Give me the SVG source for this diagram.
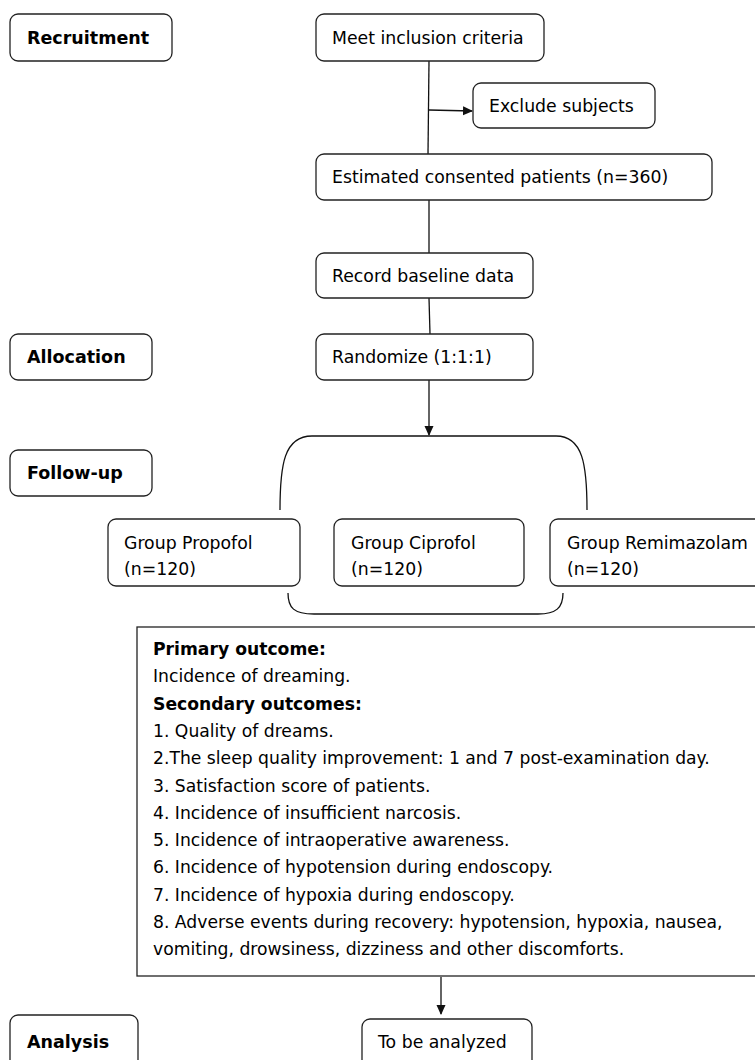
<svg xmlns="http://www.w3.org/2000/svg" width="755" height="1060" viewBox="0 0 755 1060">
<style>
.box{fill:#fff;stroke:#222;stroke-width:1.3}
.t{font-family:"DejaVu Sans",Verdana,sans-serif;font-size:17.3px;fill:#000}
.b{font-family:"DejaVu Sans",Verdana,sans-serif;font-size:17.5px;font-weight:bold;fill:#000}
.o{font-family:"DejaVu Sans",Verdana,sans-serif;font-size:17.2px;fill:#000}
.ob{font-family:"DejaVu Sans",Verdana,sans-serif;font-size:17.2px;font-weight:bold;fill:#000}
.ln{fill:none;stroke:#111;stroke-width:1.3}
</style>
<defs>
<marker id="ah" markerWidth="10" markerHeight="10" refX="9" refY="5" orient="auto" markerUnits="userSpaceOnUse">
<path d="M0,0.5 L10,5 L0,9.5 Z" fill="#111"/>
</marker>
</defs>
<rect width="755" height="1060" fill="#fff"/>
<g id="connectors">
<line class="ln" x1="429" y1="61" x2="428" y2="154"/>
<line class="ln" x1="429" y1="110" x2="472" y2="111" marker-end="url(#ah)"/>
<line class="ln" x1="429" y1="200" x2="429" y2="253"/>
<line class="ln" x1="429" y1="298" x2="430" y2="334"/>
<line class="ln" x1="429" y1="380" x2="429" y2="435" marker-end="url(#ah)"/>
<path class="ln" d="M280,510 C280,465 284,436 312,436 L556,436 C583,436 587,465 587,510"/>
<path class="ln" d="M288,593 C288,608 294,614 314,614 L538,614 C556,614 563,608 563,593"/>
<line class="ln" x1="441" y1="977" x2="441" y2="1014" marker-end="url(#ah)"/>
</g>
<g id="recruitment"><rect class="box" x="10" y="14" width="162" height="47" rx="8"/><text class="b" x="27" y="44">Recruitment</text></g>
<g id="meet"><rect class="box" x="316" y="14" width="228" height="47" rx="8"/><text class="t" x="332" y="44">Meet inclusion criteria</text></g>
<g id="exclude"><rect class="box" x="473" y="83" width="182" height="45" rx="8"/><text class="t" x="489" y="112">Exclude subjects</text></g>
<g id="estimated"><rect class="box" x="316" y="154" width="396" height="46" rx="8"/><text class="t" x="332" y="183">Estimated consented patients (n=360)</text></g>
<g id="baseline"><rect class="box" x="316" y="253" width="217" height="45" rx="8"/><text class="t" x="332" y="282">Record baseline data</text></g>
<g id="allocation"><rect class="box" x="10" y="334" width="142" height="46" rx="8"/><text class="b" x="27" y="363">Allocation</text></g>
<g id="randomize"><rect class="box" x="316" y="334" width="217" height="46" rx="8"/><text class="t" x="332" y="363">Randomize (1:1:1)</text></g>
<g id="followup"><rect class="box" x="10" y="450" width="142" height="46" rx="8"/><text class="b" x="27" y="479">Follow-up</text></g>
<g id="propofol"><rect class="box" x="108" y="519" width="192" height="67" rx="8"/><text class="t" x="124" y="549">Group Propofol</text><text class="t" x="124" y="575">(n=120)</text></g>
<g id="ciprofol"><rect class="box" x="334" y="519" width="190" height="67" rx="8"/><text class="t" x="351" y="549">Group Ciprofol</text><text class="t" x="351" y="575">(n=120)</text></g>
<g id="remimazolam"><rect class="box" x="550" y="519" width="215" height="67" rx="8"/><text class="t" x="567" y="549">Group Remimazolam</text><text class="t" x="567" y="575">(n=120)</text></g>
<g id="outcomes">
<rect class="box" x="137" y="627" width="630" height="349"/>
<text class="ob" x="153" y="655">Primary outcome:</text>
<text class="o" x="153" y="682.3">Incidence of dreaming.</text>
<text class="ob" x="153" y="709.6">Secondary outcomes:</text>
<text class="o" x="153" y="736.9">1. Quality of dreams.</text>
<text class="o" x="153" y="764.2">2.The sleep quality improvement: 1 and 7 post-examination day.</text>
<text class="o" x="153" y="791.5">3. Satisfaction score of patients.</text>
<text class="o" x="153" y="818.8">4. Incidence of insufficient narcosis.</text>
<text class="o" x="153" y="846.1">5. Incidence of intraoperative awareness.</text>
<text class="o" x="153" y="873.4">6. Incidence of hypotension during endoscopy.</text>
<text class="o" x="153" y="900.7">7. Incidence of hypoxia during endoscopy.</text>
<text class="o" x="153" y="928">8. Adverse events during recovery: hypotension, hypoxia, nausea,</text>
<text class="o" x="153" y="955.3">vomiting, drowsiness, dizziness and other discomforts.</text>
</g>
<g id="analysis"><rect class="box" x="10" y="1015" width="128" height="60" rx="8"/><text class="b" x="27" y="1048">Analysis</text></g>
<g id="analyzed"><rect class="box" x="362" y="1019" width="170" height="60" rx="8"/><text class="t" x="378" y="1048">To be analyzed</text></g>
</svg>
